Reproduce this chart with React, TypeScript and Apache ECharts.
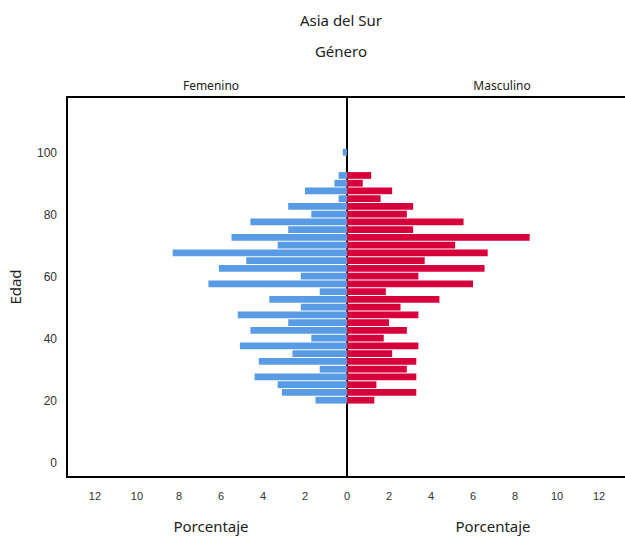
import React, { useEffect, useRef } from "react";
import * as echarts from "echarts";

// Start age of each 2.5-year bin (bottom edge of each bar)
const ageBinStart = [
  19, 21.5, 24, 26.5, 29, 31.5, 34, 36.5, 39, 41.5, 44, 46.5, 49, 51.5, 54, 56.5,
  59, 61.5, 64, 66.5, 69, 71.5, 74, 76.5, 79, 81.5, 84, 86.5, 89, 91.5, 94, 96.5, 99,
];
const binWidth = 2.5;

// Percentages (Femenino)
const femenino = [
  1.5, 3.1, 3.3, 4.4, 1.3, 4.2, 2.6, 5.1, 1.7, 4.6, 2.8, 5.2, 2.2, 3.7, 1.3, 6.6,
  2.2, 6.1, 4.8, 8.3, 3.3, 5.5, 2.8, 4.6, 1.7, 2.8, 0.4, 2.0, 0.6, 0.4, 0, 0, 0.2,
];
// Percentages (Masculino)
const masculino = [
  1.3, 3.3, 1.4, 3.3, 2.85, 3.3, 2.15, 3.4, 1.75, 2.85, 2.0, 3.4, 2.55, 4.4, 1.85, 6.0,
  3.4, 6.55, 3.7, 6.7, 5.15, 8.7, 3.15, 5.55, 2.85, 3.15, 1.6, 2.15, 0.75, 1.15, 0, 0, 0,
];

const yLabelValues = [0, 20, 40, 60, 80, 100];
const xLabelValuesLeft = [0, 2, 4, 6, 8, 10, 12];
const xLabelValuesRight = [2, 4, 6, 8, 10, 12];

const BLUE = "#5a9be6";
const RED = "#d6003b";

export default function App() {
  const ref = useRef<HTMLDivElement>(null);
  useEffect(() => {
    document.documentElement.style.overflow = "hidden";
    document.body.style.overflow = "hidden";
    document.body.style.margin = "0";
    const chart = echarts.init(ref.current!, null, { renderer: "svg" });

    const makeRender = (color: string) => (params: any, api: any) => {
      const val = api.value(0);
      const start = api.value(1);
      if (!val) return null;
      const p0 = api.coord([0, start]);
      const p1 = api.coord([val, start + binWidth]);
      const x = Math.min(p0[0], p1[0]);
      const w = Math.abs(p1[0] - p0[0]);
      const top = Math.min(p0[1], p1[1]);
      const h = Math.abs(p0[1] - p1[1]);
      return {
        type: "rect",
        shape: { x, y: top + 0.5, width: w, height: h - 1 },
        style: { fill: color },
      };
    };

    const tickLabel = {
      color: "#333",
      fontFamily: "Liberation Sans, Arial, sans-serif",
      fontSize: 11,
      margin: 13,
    };
    const blackLine = { show: true, onZero: false, lineStyle: { color: "#000", width: 2 } };

    chart.setOption({
      animation: false,
      grid: [
        {
          left: 67, top: 97, width: 280, height: 380, outerBoundsMode: "none",
          show: true, borderColor: "#000", borderWidth: 2, backgroundColor: "transparent",
        },
        {
          left: 347, top: 97, width: 280, height: 380, outerBoundsMode: "none",
          show: false,
        },
      ],
      xAxis: [
        {
          gridIndex: 0, type: "value", inverse: true, min: 0, max: 13.333,
          axisLine: { show: false }, axisTick: { show: false }, splitLine: { show: false },
          axisLabel: { ...tickLabel, customValues: xLabelValuesLeft },
        },
        {
          gridIndex: 1, type: "value", min: 0, max: 13.333, position: "bottom",
          axisLine: blackLine, axisTick: { show: false }, splitLine: { show: false },
          axisLabel: { ...tickLabel, customValues: xLabelValuesRight },
        },
        {
          gridIndex: 1, type: "value", min: 0, max: 13.333, position: "top",
          axisLine: blackLine, axisTick: { show: false }, splitLine: { show: false },
          axisLabel: { show: false },
        },
      ],
      yAxis: [
        {
          gridIndex: 0, type: "value", min: -4.52, max: 118.06,
          axisLine: { show: false }, axisTick: { show: false }, splitLine: { show: false },
          axisLabel: { ...tickLabel, fontSize: 12, margin: 10, customValues: yLabelValues },
        },
        {
          gridIndex: 1, type: "value", min: -4.52, max: 118.06, show: false,
          splitLine: { show: false },
        },
      ],
      series: [
        {
          type: "custom",
          name: "Femenino",
          xAxisIndex: 0, yAxisIndex: 0,
          renderItem: makeRender(BLUE),
          data: ageBinStart.map((a, i) => [femenino[i], a]),
          encode: { x: 0, y: 1 },
          clip: true,
        },
        {
          type: "custom",
          name: "Masculino",
          xAxisIndex: 1, yAxisIndex: 1,
          renderItem: makeRender(RED),
          data: ageBinStart.map((a, i) => [masculino[i], a]),
          encode: { x: 0, y: 1 },
          clip: true,
        },
      ],
      graphic: [
        {
          type: "text", x: 341, y: 20,
          style: { text: "Asia del Sur", fontSize: 15, fontFamily: "Noto Sans", fill: "#222", align: "center", verticalAlign: "middle" },
        },
        {
          type: "text", x: 341, y: 51,
          style: { text: "Género", fontSize: 15, fontFamily: "Noto Sans", fill: "#222", align: "center", verticalAlign: "middle" },
        },
        {
          type: "text", x: 211, y: 85,
          style: { text: "Femenino", fontSize: 12, fontFamily: "Noto Sans", fill: "#222", align: "center", verticalAlign: "middle" },
        },
        {
          type: "text", x: 502, y: 85,
          style: { text: "Masculino", fontSize: 12, fontFamily: "Noto Sans", fill: "#222", align: "center", verticalAlign: "middle" },
        },
        {
          type: "text", x: 15, y: 287, rotation: Math.PI / 2,
          style: { text: "Edad", fontSize: 15, fontFamily: "Noto Sans", fill: "#222", align: "center", verticalAlign: "middle" },
        },
        {
          type: "text", x: 211, y: 526,
          style: { text: "Porcentaje", fontSize: 15, fontFamily: "Noto Sans", fill: "#222", align: "center", verticalAlign: "middle" },
        },
        {
          type: "text", x: 493, y: 526,
          style: { text: "Porcentaje", fontSize: 15, fontFamily: "Noto Sans", fill: "#222", align: "center", verticalAlign: "middle" },
        },
      ],
    });
    return () => {
      chart.dispose();
    };
  }, []);
  return (
    <div
      ref={ref}
      style={{ position: "fixed", left: 0, top: 0, width: 625, height: 536, background: "#fff" }}
    />
  );
}
